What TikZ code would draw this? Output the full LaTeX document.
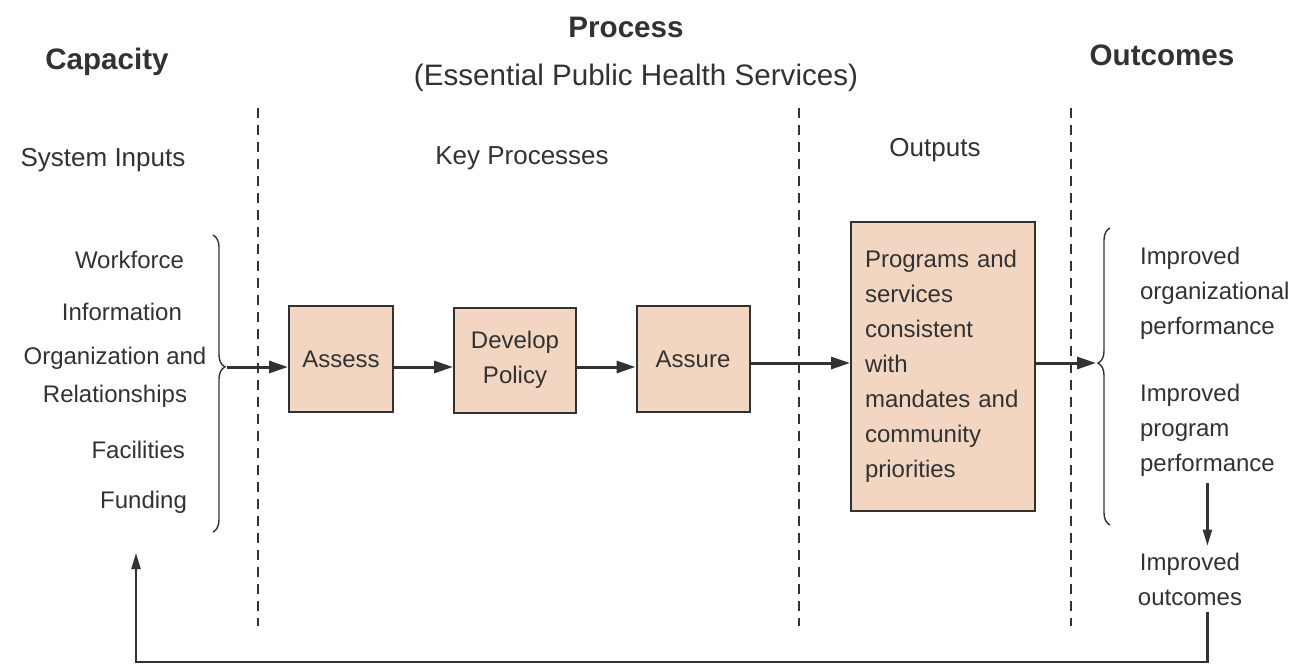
\documentclass[tikz,border=0pt]{standalone}
\usepackage{fontspec}
\setmainfont{Liberation Sans}
\usetikzlibrary{arrows.meta,decorations.pathreplacing}
\definecolor{ink}{RGB}{50,50,50}
\definecolor{tanfill}{RGB}{242,214,194}
\tikzset{
  stage/.style={draw=ink, line width=1pt, fill=tanfill, text=ink, font=\fontsize{12}{17.5}\selectfont, align=center},
  head/.style={text=ink, font=\fontsize{14.8}{18}\selectfont\bfseries},
  subhead/.style={text=ink, font=\fontsize{14.8}{18}\selectfont},
  colhead/.style={text=ink, font=\fontsize{13}{16}\selectfont},
  item/.style={text=ink, font=\fontsize{12}{17.5}\selectfont},
  flow/.style={draw=ink, line width=1.5pt, -{Triangle[length=9.5pt,width=6pt]}},
  back/.style={draw=ink, line width=1.1pt, -{Triangle[length=8pt,width=4.5pt]}},
  divider/.style={draw=ink, line width=0.6pt, dash pattern=on 5pt off 3.5pt},
  brc/.style={draw=ink, line width=0.7pt, decorate, decoration={brace, amplitude=6pt, aspect=#1}},
}
\begin{document}
\begin{tikzpicture}[x=0.5pt, y=-0.5pt]
  \useasboundingbox (0,0) rectangle (1301,666);
  % headings
  \node[head] (cap) at (107,62) {Capacity};
  \node[head] (proc) at (626,27) {Process};
  \node[subhead] (eph) at (636,78) {(Essential Public Health Services)};
  \node[head] (outc) at (1162,55) {Outcomes};
  \node[colhead] (sysin) at (103,160) {System Inputs};
  \node[colhead] (keyp) at (522,158) {Key Processes};
  \node[colhead] (outp) at (935,150) {Outputs};
  % dividers
  \foreach \x in {258,799,1071} {
    \draw[divider] (\x,108) -- (\x,626);
  }
  % system inputs
  \node[item, anchor=east] (work) at (191,260) {Workforce};
  \node[item, anchor=east] (info) at (189,312) {Information};
  \node[item, align=center] (orgrel) at (115,377) {Organization and\\[1.5pt]Relationships};
  \node[item, anchor=east] (fac) at (192,450) {Facilities};
  \node[item, anchor=east] (fund) at (194,502) {Funding};
  \draw[brc=0.444] (213,235) -- (213,532);
  \coordinate (inbr) at (227,367);
  % key processes
  \node[stage, minimum width=52pt, minimum height=53pt] (assess) at (341,359) {Assess};
  \node[stage, minimum width=61pt, minimum height=52.5pt] (policy) at (515,360) {Develop\\Policy};
  \node[stage, minimum width=56.5pt, minimum height=53pt] (assure) at (693,359) {Assure};
  % outputs
  \node[stage, align=left, text width=78pt, inner xsep=7pt, minimum height=144.5pt] (progs) at (943,366) {Programs and\\services\\consistent\\with\\mandates and\\community\\priorities};
  % outcomes
  \draw[brc=0.545] (1110,525) -- (1110,228);
  \coordinate (outbr) at (1096,363);
  \node[item, anchor=west, align=left] (perf1) at (1133,293) {Improved\\organizational\\performance};
  \node[item, anchor=west, align=left] (perf2) at (1133,430) {Improved\\program\\performance};
  \node[item, align=center] (outcm) at (1190,579) {Improved\\outcomes};
  \coordinate (fbot) at (136,662);
  \coordinate (fbend) at (136,553);
  % connectors
  \draw[flow] (inbr) -- (inbr -| assess.west);
  \draw[flow] (assess.east |- inbr) -- (policy.west |- inbr);
  \draw[flow] (policy.east |- inbr) -- (assure.west |- inbr);
  \draw[flow] (assure.east |- outbr) -- (progs.west |- outbr);
  \draw[flow] (progs.east |- outbr) -- (outbr);
  \draw[back] (perf2.south) -- (perf2.south |- outcm.north);
  \draw[back] (perf2.south |- outcm.south) -- (perf2.south |- fbot) -- (fbot) -- (fbend);
\end{tikzpicture}
\end{document}
